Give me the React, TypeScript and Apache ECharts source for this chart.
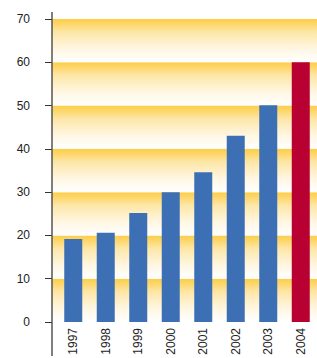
import React, { useEffect, useRef } from "react";
import * as echarts from "echarts";

const categories = ["1997", "1998", "1999", "2000", "2001", "2002", "2003", "2004"];
const values = [19.2, 20.6, 25.2, 30.0, 34.6, 43.0, 50.1, 60.0];
const barColors = ["#3d6fb4", "#3d6fb4", "#3d6fb4", "#3d6fb4", "#3d6fb4", "#3d6fb4", "#3d6fb4", "#b80033"];
const yMin = 0;
const yMax = 70;
const yInterval = 10;

export default function App() {
  const ref = useRef<HTMLDivElement>(null);
  useEffect(() => {
    if (!ref.current) return;
    document.body.style.margin = "0";
    const chart = echarts.init(ref.current, null, { renderer: "svg" });
    const band = new echarts.graphic.LinearGradient(0, 0, 0, 1, [
      { offset: 0, color: "#fdcd45" },
      { offset: 0.3, color: "#fde6a6" },
      { offset: 0.7, color: "#fff7e4" },
      { offset: 1, color: "#ffffff" },
    ]);
    chart.setOption({
      animation: false,
      grid: [
        { left: 52, right: 0, top: 19, bottom: 36, outerBoundsMode: "none" },
        { left: 57, right: 0, top: 19, bottom: 36, outerBoundsMode: "none" },
      ],
      xAxis: [
        { gridIndex: 0, type: "value", min: 0, max: 1, show: false },
        {
          gridIndex: 1,
          type: "category",
          data: categories,
          axisLine: { show: false },
          axisTick: { show: false },
          axisLabel: {
            rotate: 90,
            margin: 6,
            interval: 0,
            fontFamily: "Liberation Sans, Arial, sans-serif",
            fontSize: 12,
            color: "#222",
          },
        },
      ],
      yAxis: [
        {
          gridIndex: 0,
          type: "value",
          min: yMin,
          max: yMax,
          interval: yInterval,
          offset: 8,
          axisLine: { show: false },
          axisTick: { show: true, length: 7, lineStyle: { color: "#333", width: 1 } },
          axisLabel: {
            margin: 14,
            fontFamily: "Liberation Sans, Arial, sans-serif",
            fontSize: 12,
            color: "#222",
          },
          splitLine: { show: false },
          splitArea: { show: true, areaStyle: { color: [band] } },
        },
        {
          gridIndex: 1,
          type: "value",
          min: yMin,
          max: yMax,
          interval: yInterval,
          show: false,
          splitLine: { show: false },
        },
      ],
      series: [
        {
          type: "bar",
          xAxisIndex: 1,
          yAxisIndex: 1,
          barWidth: 18,
          data: values.map((v, i) => ({ value: v, itemStyle: { color: barColors[i] } })),
        },
      ],
      graphic: [
        {
          type: "line",
          shape: { x1: 52, y1: 12, x2: 52, y2: 356 },
          style: { stroke: "#555", lineWidth: 1.5 },
          z: 10,
        },
      ],
    });
    return () => chart.dispose();
  }, []);
  return <div ref={ref} style={{ width: 317, height: 358 }} />;
}
